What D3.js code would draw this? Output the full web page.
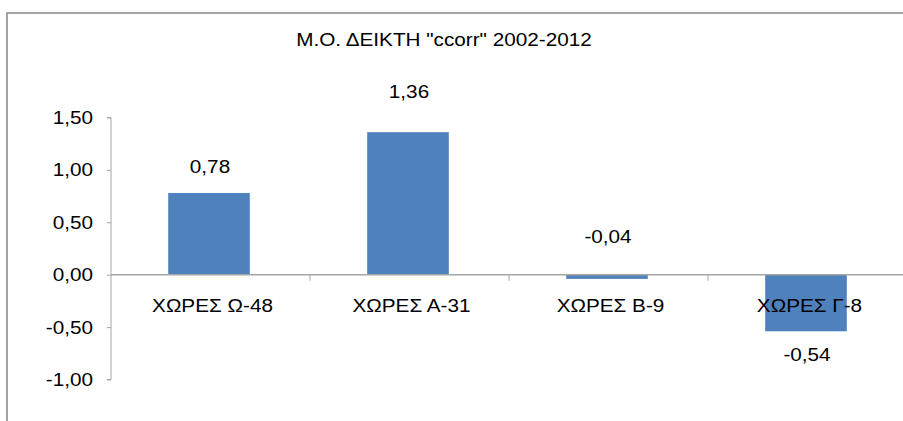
<!DOCTYPE html>
<html>
<head>
<meta charset="utf-8">
<script src="https://cdn.jsdelivr.net/npm/d3@7"></script>
<style>
  html, body { margin: 0; padding: 0; background: #fff; }
  svg { display: block; font-family: "Liberation Sans", Arial, sans-serif; }
</style>
</head>
<body>
<svg id="chart" width="903" height="421"></svg>
<script>
// ---- data ----
const title = 'Μ.Ο. ΔΕΙΚΤΗ "ccorr" 2002-2012';
const categories = ["ΧΩΡΕΣ Ω-48", "ΧΩΡΕΣ Α-31", "ΧΩΡΕΣ Β-9", "ΧΩΡΕΣ Γ-8"];
const values = [0.78, 1.36, -0.04, -0.54];
const yTicks = [-1.0, -0.5, 0.0, 0.5, 1.0, 1.5];

// ---- layout ----
const labelNudge = [-20, -34, -36, 30]; // baseline offset of value labels from bar end
const svg = d3.select("#chart");
const FS = 18.5, SX = 1.12;
const plot = { left: 111, right: 907, top: 117.5, bottom: 379.5 };
const fmt = v => d3.format(".2f")(v).replace(".", ",").replace("\u2212", "-");

// stretched text helper
function label(sel, x, y, anchor) {
  return sel.append("text")
    .attr("transform", `translate(${x},${y}) scale(${SX},1)`)
    .attr("text-anchor", anchor || "middle")
    .attr("font-size", FS)
    .attr("fill", "#000");
}

// chart border
svg.append("rect")
  .attr("x", 7).attr("y", 13)
  .attr("width", 1000).attr("height", 1000)
  .attr("fill", "none").attr("stroke", "#868686").attr("stroke-width", 1.5);

const y = d3.scaleLinear().domain([-1.0, 1.5]).range([plot.bottom, plot.top]);
const x = d3.scaleBand().domain(categories).range([plot.left, plot.right]).paddingInner(0.59).paddingOuter(0.295);
const xb = d3.scaleBand().domain(categories).range([plot.left, plot.right]);

// title
label(svg, 444, 46).text(title);

// bars
svg.selectAll("rect.bar").data(values).enter().append("rect")
  .attr("class", "bar")
  .attr("x", (d, i) => x(categories[i]) - 1.5)
  .attr("width", x.bandwidth())
  .attr("y", d => y(Math.max(0, d)))
  .attr("height", d => Math.abs(y(d) - y(0)))
  .attr("fill", "#4f81bd");

// y axis
const yAxis = d3.axisLeft(y).tickValues(yTicks).tickSize(4).tickPadding(14).tickFormat(fmt);
const gy = svg.append("g").attr("transform", `translate(${plot.left},0)`).call(yAxis);
gy.select(".domain").attr("stroke", "#a6a6a6").attr("d", `M-4,${plot.top}H0V${plot.bottom}H-4`);
gy.selectAll(".tick line").attr("stroke", "#a6a6a6");
gy.selectAll(".tick text")
  .attr("font-size", FS).attr("fill", "#000").attr("font-family", null)
  .attr("x", -18 / SX)
  .attr("transform", `scale(${SX},1)`);

// x axis at zero
const gx = svg.append("g").attr("transform", `translate(0,${y(0)})`);
gx.append("line").attr("x1", plot.left).attr("x2", plot.right).attr("y1", 0).attr("y2", 0)
  .attr("stroke", "#a6a6a6").attr("stroke-width", 1.5);
gx.selectAll("line.tk").data(categories).enter().append("line")
  .attr("class", "tk")
  .attr("x1", d => xb(d) + xb.bandwidth())
  .attr("x2", d => xb(d) + xb.bandwidth())
  .attr("y1", 0).attr("y2", 6).attr("stroke", "#a6a6a6");
categories.forEach(c => {
  label(gx, xb(c) + xb.bandwidth() / 2 + 2, 37).text(c);
});

// value labels
values.forEach((v, i) => {
  label(svg, x(categories[i]) - 1.5 + x.bandwidth() / 2 + 1, y(v) + labelNudge[i]).text(fmt(v));
});
</script>
</body>
</html>
